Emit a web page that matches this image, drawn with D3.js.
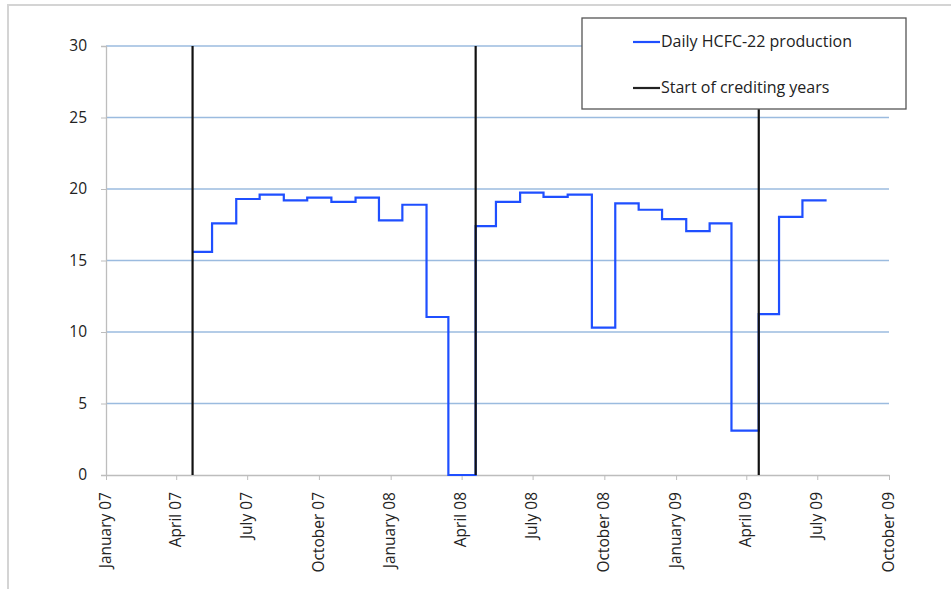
<!DOCTYPE html>
<html>
<head>
<meta charset="utf-8">
<script src="https://cdn.jsdelivr.net/npm/d3@7"></script>
<style>
  body { margin: 0; background: #fff; }
  svg { display: block; font-family: "Open Sans", sans-serif; }
</style>
</head>
<body>
<svg id="chart" width="951" height="589"></svg>
<script>
// monthly production periods (start date of each step) and daily production
const periodStarts = [
  "2007-04-22", "2007-05-17", "2007-06-17", "2007-07-17", "2007-08-17", "2007-09-16",
  "2007-10-17", "2007-11-17", "2007-12-17", "2008-01-16", "2008-02-16", "2008-03-15",
  "2008-04-19", "2008-05-15", "2008-06-15", "2008-07-15", "2008-08-15", "2008-09-15",
  "2008-10-15", "2008-11-14", "2008-12-14", "2009-01-14", "2009-02-13", "2009-03-13",
  "2009-04-17", "2009-05-13", "2009-06-12"
];
const periodEnd = "2009-07-13";
const production = [
  15.6, 17.6, 19.3, 19.6, 19.2, 19.4,
  19.1, 19.4, 17.8, 18.9, 11.05, 0,
  17.4, 19.1, 19.75, 19.45, 19.6, 10.3,
  19.0, 18.55, 17.9, 17.05, 17.6, 3.1,
  11.25, 18.05, 19.2
];
const creditingStarts = ["2007-04-22", "2008-04-19", "2009-04-17"];
const xTickDates = [
  "2007-01-01", "2007-04-01", "2007-07-01", "2007-10-01",
  "2008-01-01", "2008-04-01", "2008-07-01", "2008-10-01",
  "2009-01-01", "2009-04-01", "2009-07-01", "2009-10-01"
];
const yTicks = [0, 5, 10, 15, 20, 25, 30];
const legendLabels = ["Daily HCFC-22 production", "Start of crediting years"];

const parseDate = d3.timeParse("%Y-%m-%d");
const svg = d3.select("#chart");

const margin = { top: 46, right: 62, bottom: 114, left: 106 };
const width = 951 - margin.left - margin.right;
const height = 589 - margin.top - margin.bottom;

// outer frame (only the left and top edges are visible)
svg.append("rect")
  .attr("x", 8).attr("y", 5)
  .attr("width", 1000).attr("height", 1000)
  .attr("fill", "none")
  .attr("stroke", "#d4d4d4")
  .attr("stroke-width", 2);

const x = d3.scaleTime()
  .domain([parseDate(xTickDates[0]), parseDate(xTickDates[xTickDates.length - 1])])
  .range([0, width]);

const y = d3.scaleLinear()
  .domain([0, 30])
  .range([height, 0]);

const g = svg.append("g").attr("transform", `translate(${margin.left},${margin.top})`);

// gridlines
g.selectAll(".grid")
  .data(yTicks.filter(d => d > 0))
  .join("line")
  .attr("class", "grid")
  .attr("x1", 0).attr("x2", width)
  .attr("y1", d => y(d)).attr("y2", d => y(d))
  .attr("stroke", "#9bbbdf")
  .attr("stroke-width", 1.3);

// y axis
const yAxis = g.append("g")
  .call(d3.axisLeft(y).tickValues(yTicks).tickSize(5).tickPadding(14));
yAxis.select(".domain").attr("stroke", "#bdbdbd").attr("stroke-width", 1.3);
yAxis.selectAll(".tick line").attr("stroke", "#bdbdbd");
yAxis.selectAll(".tick text").attr("font-size", 15.5).attr("fill", "#222")
  .attr("font-family", "Open Sans, sans-serif");

// x axis
const fmt = d3.timeFormat("%B %y");
const xAxis = g.append("g")
  .attr("transform", `translate(0,${height})`)
  .call(d3.axisBottom(x).tickValues(xTickDates.map(parseDate)).tickFormat(fmt).tickSize(5).tickSizeOuter(0));
xAxis.select(".domain").attr("stroke", "#bdbdbd").attr("stroke-width", 1.3);
xAxis.selectAll(".tick line").attr("stroke", "#bdbdbd");
xAxis.selectAll(".tick text")
  .attr("font-size", 15.5).attr("fill", "#222")
  .attr("font-family", "Open Sans, sans-serif")
  .attr("text-anchor", "end")
  .attr("dy", null)
  .attr("transform", "translate(0,17) rotate(-90)")
  .attr("x", 0).attr("y", 0)
  .attr("dominant-baseline", "middle");

// production step line
const stepData = periodStarts.map((d, i) => ({ date: parseDate(d), value: production[i] }));
stepData.push({ date: parseDate(periodEnd), value: production[production.length - 1] });

const line = d3.line()
  .x(d => x(d.date))
  .y(d => y(d.value))
  .curve(d3.curveStepAfter);

g.append("path")
  .datum(stepData)
  .attr("d", line)
  .attr("fill", "none")
  .attr("stroke", "#1f4fff")
  .attr("stroke-width", 2.2);

// crediting year lines
g.selectAll(".credit")
  .data(creditingStarts.map(parseDate))
  .join("line")
  .attr("class", "credit")
  .attr("x1", d => x(d)).attr("x2", d => x(d))
  .attr("y1", y(0)).attr("y2", y(30))
  .attr("stroke", "#111")
  .attr("stroke-width", 2.2);

// legend
const legend = svg.append("g").attr("transform", "translate(582,18)");
legend.append("rect")
  .attr("width", 324).attr("height", 91)
  .attr("fill", "#fff")
  .attr("stroke", "#555")
  .attr("stroke-width", 1.3);

const legendColors = ["#1f4fff", "#222"];
legendLabels.forEach((label, i) => {
  const ly = 24 + i * 46;
  legend.append("line")
    .attr("x1", 51).attr("x2", 78)
    .attr("y1", ly).attr("y2", ly)
    .attr("stroke", legendColors[i])
    .attr("stroke-width", 2.2);
  legend.append("text")
    .attr("x", 79).attr("y", ly + 1)
    .attr("dominant-baseline", "middle")
    .attr("font-size", 16)
    .attr("fill", "#222")
    .text(label);
});
</script>
</body>
</html>
